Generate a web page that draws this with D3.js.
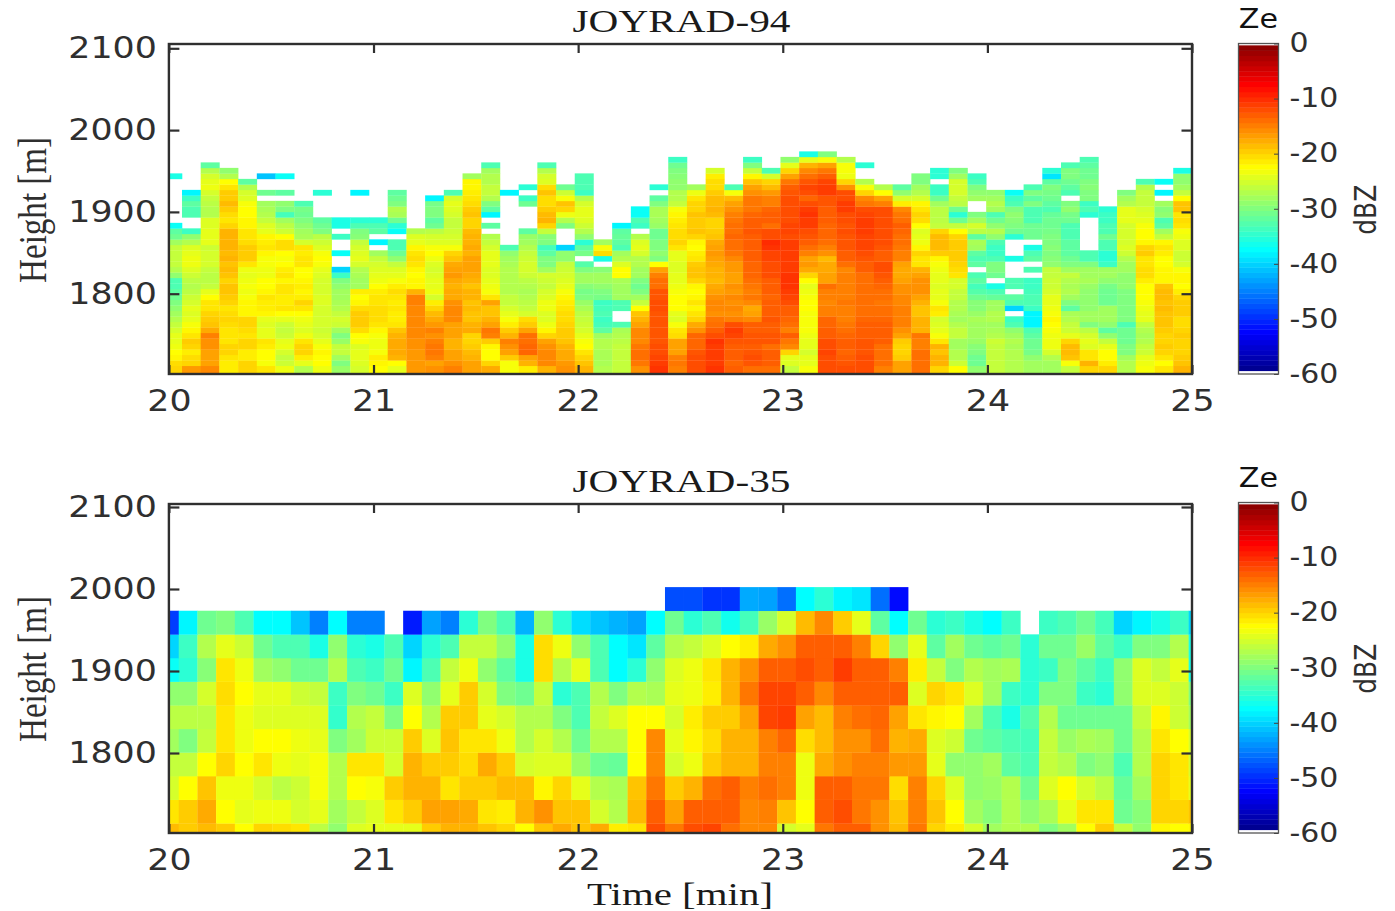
<!DOCTYPE html>
<html>
<head>
<meta charset="utf-8">
<script src="https://cdn.jsdelivr.net/npm/d3@7"></script>
<style>
html,body{margin:0;padding:0;background:#fff;overflow:hidden}
svg{display:block}
</style>
</head>
<body>
<svg id="chart" width="1395" height="911"></svg>
<script>
// ---- tick labels / titles ----
const timeTicks = [20, 21, 22, 23, 24, 25];
const heightTicks = [1800, 1900, 2000, 2100];
const zeTicks = [0, -10, -20, -30, -40, -50, -60];
const panelTitles = ["JOYRAD-94", "JOYRAD-35"];

// ---- JOYRAD-94: one array per time column, lowest gate first; a hole means no signal ----
const ze94 = [
[-20,-20.5,-22,-22.5,-23.5,-24,-24,-25,-26,-27,-28,-29,-30,-31,-32,-33,-33,-29,-27,-26,-26,-26,-26,-28,-31,-32,-37,,,,,,,,,-36],
[-16.5,-20,-20.5,-21.5,-20,-19.5,-21,-22,-23,-24,-24.5,-24,-25,-25.5,-26.5,-27,-26.5,-25.5,-24.5,-23.5,-23.5,-24,-24.5,-27,-29,-34,,,-33,-33,-32,-34,-38],
[-15.5,-17,-17,-17,-16,-16,-15,-17.5,-19,-19.5,-20,-21,-21,-22.5,-24,-26,-26.5,-26.5,-26,-25,-25,-25,-25.5,-24,-24,-24,-24.5,-24.5,-27,-27,-26.5,-26,-25,-23.5,-24,-25,-27,-32],
[-21.5,-21.5,-21,-20,-20,-21,-21,-21,-20.5,-20,-20.5,-21,-20,-19.5,-19,-19,-20,-19,-18.5,-19,-18,-18.5,-18,-18,-18,-18,-20,-21,-20.5,-19.5,-18.5,-19.5,-19.5,-21,-22.5,-27,-29],
[-20,-20,-21.5,-21.5,-20,-20,-21,-20.5,-20,-20,-22,-22,-22,-23,-23.5,-23,-23.5,-24,-23.5,-21,-19.5,-19.5,-19.5,-20.5,-21,-21,-22,-22,-22.5,-22.5,-23,-24.5,-25,-27,-32],
[-21,-23,-22.5,-22.5,-21.5,-21,-24,-24,-24.5,-24,-22,-21.5,-21.5,-21,-22,-22.5,-22.5,-23.5,-23.5,-23,-23,-22,-21,-21.5,-22,-24,-24.5,-26,-27,-27.5,-28,,-31,,,-41],
[-23.5,-25.5,-26,-25,-23.5,-24,-25.5,-26,-25.5,-24,-22.5,-21,-21.5,-21.5,-21,-21,-22,-21,-21.5,-22.5,-23,-22.5,-20.5,-20.5,-22.5,-25.5,-26.5,-28,-33.5,-30,-29,,-32,,,-37],
[-27,-24,-21.5,-20,-20,-21,-23.5,-24.5,-24,-23.5,-22.5,-21,-20,-21.5,-22,-21.5,-22,-22.5,-22.5,-21,-21,-21.5,-21,-25,-27.5,-28,-29,-30,-31,-30.5,-33],
[-23.5,-22.5,-22.5,-22,-23,-24,-25,-25.5,-25,-25,-25,-25,-24.5,-24.5,-25,-25,-25,-24.5,-24,-23,-22.5,-23,-24.5,-25.5,-26.5,-30,-31,-32,,,,,-35],
[-28.5,-30,-28,-26,-26,-28.5,-30,-28,-25.5,-25,-26,-27,-27.5,-28,-28,-29,-30,-34,-40,,,-37,,,-34,,-36,-36],
[-25,-24.5,-24,-24,-24.5,-23,-22.5,-20.5,-19.5,-19.5,-19.5,-20.5,-22,-22.5,-21.5,-28,-28,-27.5,-27,-25,-24,-24.5,-25,-26,-29.5,-30,-33,-35,,,,,-38],
[-22.5,-22,-21.5,-23,-23.5,-23.5,-23,-22,-21,-20.5,-20.5,-20.5,-21,-21,-21.5,-22.5,-23.5,-24,-24.5,-25,-26,-28,,-38,,-32,-33,-35],
[-24,-22.5,-18,-17.5,-17.5,-17.5,-18,-19,-21,-21.5,-21.5,-21,-21.5,-21,-20.5,-21.5,-23,-24,-24.5,-26,-29,-31,-33,-33,,-37,-35,-31,-27.5,-27,-30,-31,-32],
[-16.5,-16.5,-16.5,-16.5,-16,-16,-15.5,-15.5,-15.5,-15.5,-15.5,-15.5,-15,-15,-18,-22,-22,-22.5,-22,-21,-20.5,-21,-22,-24,-24.5,-27],
[-16,-17,-15,-14.5,-14.5,-15,-16,-15,-16.5,-17.5,-18.5,-20,-21.5,-25,-23.5,-24,-24,-24.5,-25,-24.5,-23.5,-22.5,-23,-24.5,-25,-26.5,-31,-32,-30,-30,-30.5,-38],
[-15,-16,-17,-17,-18,-18,-17,-17,-17,-15.5,-15.5,-15.5,-16,-17.5,-17.5,-18,-17.5,-16.5,-17,-17.5,-19,-20,-23,-24.5,-25,-25.5,-26,-26,-25,-24.5,-24,-25,-33],
[-17,-17,-18,-18.5,-19.5,-20,-20,-17.5,-18,-19,-19,-18.5,-19,-18,-18,-19,-18,-17.5,-17,-17,-17,-18,-17.5,-18,-18,-18.5,-20,-20,-19,-19.5,-20.5,-21,-21.5,-22,-22,-28],
[-17.5,-20,-22.5,-22.5,-22,-19.5,-15,-14.5,-17,-18,-19,-19,-17,-21,-23,-23.5,-24,-24.5,-24.5,-24,-24,-24,-25,-26,-27,,-32,,-38,-32,-30,-27,-26,-26,-27,-27,-28,-33],
[-23,-23,-19.5,-17,-16,-15,-18,-19.5,-21.5,-23,-24,-25,-26,-26,-27,-27,-27,-27,-27,-27.5,-28,-29,-33,,,,,,,,,,-38],
[-21.5,-18,-17,-13.5,-13.5,-14,-14,-17,-19.5,-20.5,-25,-26,-26.5,-27,-27.5,-27,-26.5,-25.5,-25,-25,-25.5,-26,-27,-28,-28.5,-32,,,,,-31,-34,,-35],
[-18,-15.5,-15.5,-15.5,-16,-17,-20,-22,-23.5,-24.5,-24.5,-23.5,-23.5,-24.5,-25,-26,-25.5,-25,-28,-30,-30,-32,-33.5,-30,-29.5,-26,-20,-18,-18.5,-19.5,-20.5,-20.5,-19,-20.5,-24.5,-25,-27,-33],
[-16,-16.5,-17.5,-17.5,-18,-19,-19.5,-19.5,-20,-20.5,-20.5,-21,-21.5,-22,-23,-24,-24.5,-25,-25.5,-26,-29,-29,-40,,,,-30,-27,-23.5,-20,-19,-23,-25.5,-31],
[-18,-19,-20,-21,-22.5,-23,-24,-25,-25.5,-26,-26.5,-27.5,-28.5,-30,-30.5,-29.5,-28,-28,-30,-32.5,,-30.5,-32,-35,-29,-27,-25.5,-24.5,-24,-24,-25,-27,-34,-33,-33,-33],
[-27,-27.5,-27.5,-27.5,-27,-27,-28,-32,-33.5,-34,-33,-33.5,-34,-30.5,-30,-29,-28,-28,-29.5,,-36,-20.5,-23,-28],
[-26,-26,-26,-26,-26,-26.5,-27,-27.5,-33,,,-33,-33,-28,-28,-28,-27.5,-22.5,-22.5,-24.5,-27,-28,-33,-32,-31.5,-32,-38],
[-16,-14.5,-14,-14,-14.5,-15.5,-15.5,-15.5,-17,-18,-19,-22.5,-26,-28,-30,-31,-30,-28,-28,-27,-27,-25,-24,-24.5,-27,,-34,-33,-37,-37],
[-10.5,-11,-11.5,-12,-12,-12.5,-12.5,-12.5,-12.5,-12.5,-12.5,-12,-12,-12.5,-12.5,-14,-14,-15,-17,-22.5,-30,-29,-30,-30,-31,-31,-28.5,-28,-27.5,-27.5,-30,-32,,-35],
[-15,-14.5,-15,-17,-17,-17,-20.5,-21,-23,-24.5,-24,-22.5,-22.5,-22.5,-23,-23.5,-24,-24,-24.5,-24.5,-24,-24,-21,-20,-20.5,-20.5,-21,-21.5,-22,-23,-26,-27,-27,-29,-29,-29.5,-30,-31,-34],
[-12,-12,-12,-12.5,-13.5,-13.5,-13.5,-16,-17.5,-20,-21,-22,-21,-22,-22.5,-22,-20,-19,-19,-19.5,-21,-21.5,-22.5,-22,-20,-19,-19.5,-19.5,-19,-20,-20,-21,-23.5,-28],
[-10.5,-11,-11,-11,-11,-10.5,-12,-13,-14,-14.5,-16,-15.5,-15.5,-16,-17,-17.5,-18.5,-18,-18,-17.5,-17,-16.5,-17,-17.5,-19,-19.5,-20,-20,-18.5,-18,-18.5,-18.5,-19.5,-20.5,-20.5,-21.5,-25],
[-13,-13.5,-13,-13,-13,-12.5,-11.5,-11,-12,-15,-16,-15.5,-16,-15.5,-16.5,-16,-17,-17,-16.5,-16.5,-15.5,-14.5,-14,-14,-13.5,-14,-14,-14.5,-15,-16,-17,-18.5,-23,-33],
[-14,-12.5,-12,-12.5,-13,-12.5,-12.5,-13,-13,-15.5,-17,-17.5,-15.5,-14.5,-15,-14.5,-14,-13.5,-13.5,-13.5,-13,-13,-13,-13,-13,-12.5,-13,-13,-13.5,-14.5,-14.5,-14.5,-16,-17,-19,-22,-26,-30,-34],
[-14,-13,-13,-13,-14,-12.5,-12.5,-13,-13,-12.5,-13,-13,-13,-13.5,-13,-13,-13,-12,-12,-12,-11.5,-11.5,-10.5,-10,-12,-12,-14,-13,-13,-13.5,-15,-15,-16.5,-18.5,-20,-25,-33],
[-26,-24.5,-24,-20,-15.5,-14.5,-13,-15,-14,-13.5,-13,-13,-12,-11.5,-11,-10.5,-10.5,-10.5,-11,-11,-11,-11,-11,-11,-12,-11.5,-11.5,-12,-12,-12,-12,-12,-12.5,-13,-14.5,-17,-20,-24,-29],
[-23,-24,-24,-25,-24,-24,-23.5,-23,-23,-23,-23,-22.5,-22.5,-23,-23.5,-24,-22.5,-20,-17.5,-16.5,-17,-15,-14,-13,-12.5,-12,-11,-11,-10.5,-11,-12,-13.5,-12,-11.5,-12.5,-14,-15.5,-18,-24,-36],
[-12,-12,-12,-11.5,-12,-12,-13,-13,-13.5,-13.5,-15,-15,-15.5,-15,-15,-14,-17,-17,-17.5,-17.5,-18.5,-16,-15,-14,-13.5,-13.5,-13.5,-13,-13,-13,-12.5,-12.5,-11,-11,-11.5,-13,-14.5,-17,-23,-30],
[-12,-12.5,-13,-13.5,-13,-13,-13.5,-14,-14.5,-15,-15,-15,-14.5,-15,-15,-15,-15,-15,-15.5,-14,-13,-13,-12.5,-12.5,-12.5,-12,-12.5,-12,-12,-11,-11,-12,-12,-16,-20,-23.5,-23,-23,-27],
[-12,-12,-12,-12.5,-12.5,-12.5,-13,-13,-13,-13.5,-14,-14,-14,-14,-14,-14,-14,-14,-13,-13,-12.5,-12,-11.5,-11.5,-11.5,-11,-11,-11,-11.5,-12,-14.5,-15.5,-20,-23,-27,,,-35],
[-15,-14,-14,-14,-14,-13,-13,-13,-13,-13.5,-14,-14,-14.5,-14,-14,-13.5,-13,-12.5,-12,-12,-13,-13,-12.5,-12,-12,-12,-12,-12,-12,-12,-15,-17,-22.5,-27],
[-17,-17,-19.5,-20,-20,-19.5,-17,-16,-15,-15,-15,-15,-15.5,-15.5,-16,-16,-17,-17.5,-17.5,-17,-15,-15,-14.5,-14,-14,-13.5,-13,-14,-14.5,-15.5,-21.5,-25,-29,-32],
[-14,-14,-14,-14,-15,-15,-14.5,-18,-18,-18,-19,-19,-18,-17,-16,-16,-16,-17,-18,-21,-21,-20,-22,-23.5,-24,-24.5,-22.5,-20.5,-20,-21,-22,-25,-27,-28,-30,-30],
[-20,-18,-18,-19,-18,-21,-23,-24,-24.5,-25,-21.5,-21,-23,-24,-24,-24.5,-24,-24,-23.5,-23,-22,-19.5,-18.5,-18.5,-18.5,-20,-26,-26.5,-26.5,-26.5,-28,-31,-34,-34,,-35,-35],
[-22.5,-25.5,-27,-27,-28,-28,-26,-26,-27,-28,-27.5,-27,-27,-26,-26,-25,-25,-21,-20.5,-20,-19.5,-19.5,-19.5,-19.5,-20,-22.5,-26,-31,-35,-31,-26.5,-26,-25,-25,-25,-28,-30],
[-29,-31,-31,-30,-29.5,-28.5,-28,-28,-28,-27.5,-28.5,-29.5,-29.5,-31,-32.5,-33.5,-32,-33,,-32,-33,-32,-28,-27.5,-32,-26.5,-25,-28,-30,,,-28,-29,-30,-33,-34],
[-26,-26,-26,-26,-26,-25.5,-27,-27.5,-28,-27,-27,-28,-28,-31.5,-33,-36,,-31,-30,-30,-33,-34,-34,-33,-29,-27,-29,-31,-33,-28,-27,-28,-29],
[-27,-27,-27,-27,-27.5,-27,-28,-29,-33,-34,,-40,-33,-32,,-33,-33,,,,-36,,,,-35,-31,-30,-29.5,-29,-30,-33,-34,-37],
[-28,-28,-29,-30.5,-31,-31,-32,-33,-38,-38,-38,-34,-33,-33,-33.5,-34,-34,,-33,,-32,-33,-36,,-31,-31,-31,-33,-33,-33,-30,-32,-30,-33],
[-28,-28,-27,-25,-23.5,-23.5,-23.5,-23,-22.5,-22,-23,-23.5,-24,-24,-25,-25.5,-25.5,-26,-26,-29,-29.5,-30,-29.5,-30,-30,-30.5,-31,-31,-31.5,-33,-32,-31,-30.5,-30,-32,-39,-35],
[-26,-23,-19,-18.5,-18.5,-20,-24,-25.5,-26,-27,-27.5,-32,-30,-28,-27,-27.5,-27,-26,-28,-30,-31,-32,-32,-32,-33,-33,-33,-31,-30.5,-29,-30,,-33,-32,-31,-30,-30,-33],
[-20,-18,-21,-21,-24.5,-24,-25,-26.5,-30,-28,-28,-29,-29,-29,-29,-28.5,-27.5,-28,-28,-30,-33,-33,,,,,,,-35,-33,-34,-30,-30,-29.5,-30,-31,-31,-32,-33],
[-20,-21.5,-22.5,-22.5,-24,-26,-29,-32,-29,-28,-28,-28,-31,-31,-31,-30.5,-29,-28,-28,-34,-35,-35,-33,-33,-31,-33,-33,-34,-34,-35],
[-27,-27,-28,-30,-30,-31,-31,-31,-33,-30,-30,-30,-30,-30,-30,-29,-29,-29,-28,-28,-27,-25.5,-24.5,-25,-25,-25,-25,-24,-24,-24,-27,-28,-30],
[-23,-23.5,-24,-25.5,-26,-27,-27.5,-27,-26,-24,-24,-23.5,-23,-22.5,-22.5,-22.5,-21.5,-20.5,-20.5,-21,-21,-19.5,-20,-22,-22.5,-22.5,-23,-24,-24.5,-25,-26,-26,-26,-27,-33],
[-21,-22.5,-21,-20,-19.5,-20,-20,-19.5,-19,-19,-19,-18.5,-19,-18.5,-18.5,-19,-22,-22,-22,-22.5,-22.5,-21.5,-21,-22,-26,-28,-32,-33,-29,-29.5,-28,,-38,,-37],
[-18,-19,-19.5,-20,-20,-20,-19.5,-20,-20.5,-20.5,-19.5,-19.5,-19.5,-20,-21.5,-22.5,-22,-22,-23,-25,-25.5,-25.5,-24.5,-24.5,-23.5,-23,-21,-20.5,-21,-19,-19,-22.5,-26,-28,-29,-29,-36]
];

// ---- JOYRAD-35: one array per range gate, lowest gate first, one value per time column ----
const ze35Gate0 = [-18.5,-19.5,-18.5,-19.5,-22.5,-20,-20.5,-21,-26.5,-29,-24.5,-24,-24,-24,-19.5,-18,-18,-19,-20,-22.5,-19,-17.5,-19,-17.5,-21.5,-21,-12,-14.5,-12,-11.5,-14,-15.5,-15.5,-25,-24,-14.5,-13,-13,-16,-18.5,-14.5,-20,-21.5,-25,-28,-27,-27,-30,-28,-22.5,-19.5,-26,-29,-22,-22.5,-22];
const ze35Gate1 = [-21,-19.5,-17.5,-22.5,-24,-23.5,-23.5,-25,-24,-28,-26,-24.5,-21,-19.5,-17,-17,-17.5,-21,-21.5,-18,-16,-19,-19,-25,-27,-18.5,-13,-17,-13,-13,-13,-15.5,-15,-19,-22.5,-13,-12,-14.5,-16,-19,-15,-19,-22.5,-28,-29.5,-27,-29,-27.5,-24,-21,-21,-31,-29.5,-20,-20,-19];
const ze35Gate2 = [-25,-22.5,-19,-23.5,-23.5,-25,-26.5,-25.5,-23,-27,-22.5,-23,-19.5,-18,-18,-21,-19.5,-19.5,-18.5,-18.5,-22,-20,-24,-27,-27.5,-19,-14.5,-19.5,-18,-14,-13,-15,-14,-15,-23.5,-13,-13,-14.5,-14.5,-20.5,-15,-20,-24.5,-29,-28.5,-27,-31,-24.5,-22.5,-25,-26.5,-31.5,-28,-20,-21,-24];
const ze35Gate3 = [-26,-26,-22.5,-20,-22.5,-21,-23.5,-24,-23,-27,-21,-21,-25,-18,-19.5,-19.5,-20.5,-17.5,-19.5,-25,-24.5,-24.5,-28.5,-31,-31.5,-22.5,-15.5,-25,-23.5,-19.5,-18,-18,-15,-15,-23.5,-17.5,-16,-15,-15,-16.5,-16.5,-24,-29,-29,-28,-32,-33,-26,-27,-30,-29,-33,-27,-20,-21,-25];
const ze35Gate4 = [-28,-30,-26,-21,-23.5,-22.5,-22.5,-23.5,-24,-30,-28,-25.5,-25.5,-19.5,-24.5,-19,-21,-21,-23.5,-27,-25,-27,-31,-27,-27,-22.5,-15.5,-24,-22,-20.5,-18,-18,-15,-13.5,-20.5,-18.5,-16,-16,-14,-18,-17.5,-24.5,-25.5,-31,-32,-33,-33.5,-26,-28.5,-27.5,-28,-31,-27,-21,-22.5,-25];
const ze35Gate5 = [-26.5,-26.5,-26.5,-21,-23.5,-24.5,-24.5,-24.5,-24.5,-34.5,-27,-26,-30,-22.5,-27,-19.5,-19.5,-24,-25,-27,-27,-30,-33,-26,-24.5,-22.5,-22.5,-25,-21.5,-19.5,-19.5,-17,-11.5,-11,-17,-18.5,-15,-14,-13.5,-17,-21,-22,-22.5,-28,-33,-36,-32.5,-27,-31,-31,-31,-31,-26,-22,-25.5,-28];
const ze35Gate6 = [-29,-29,-25,-20.5,-22.5,-24,-24,-25.5,-26,-34,-30,-31,-34,-24.5,-29,-24,-19.5,-25,-30,-31,-26,-35,-33,-27,-30,-27,-27.5,-24,-23.5,-21.5,-18,-14.5,-11.5,-11.5,-13,-15.5,-13,-13,-13,-13,-24.5,-20,-21,-24.5,-28,-34,-35,-30,-30,-34,-35,-29,-24.5,-24.5,-25.5,-30];
const ze35Gate7 = [-37,-35,-29.5,-21,-23.5,-28,-29,-31,-31,-27,-33,-34,-31,-38,-33,-26,-23.5,-29,-32,-36,-20.5,-27,-24,-33,-37.5,-35,-29,-24.5,-23.5,-21,-18,-16,-13,-13,-12,-13,-11,-13,-13,-15,-21.5,-26,-30,-27,-28,-27.5,-35,-34,-30,-32,-34,-29,-24.5,-26,-24,-36];
const ze35Gate8 = [-40,-34,-27,-24,-25.5,-31,-33,-33,-36,-29,-35,-36,-33,-40,-35,-33,-26,-26,-29,-36,-20.5,-23.5,-29,-33,-37.5,-39,-32,-27,-26,-24.5,-22.5,-21.5,-17.5,-16,-13,-13,-13,-15,-20,-29,-24,-32,-28,-31,-32,-31,-35,-31,-31,-28.5,-32,-34,-30,-30,-27,-36];
const ze35Gate9 = [-49,-38,-31,-30,-33,-37.5,-37.5,-41,-45,-37.5,-45,-45,,-51,-43,-45,-35,-30,-33,-42,-29,-35,-39.5,-41,-42,-43,-37.5,-31,-35,-33,-36.5,-33.5,-28.5,-25,-18.5,-15.5,-19.5,-24,-32,-37.5,-31,-35,-34,-36,-37.5,-34,,-34,-33,-31,-33.5,-40,-38,-36,-34,-40];
const ze35Gate10 = [,,,,,,,,,,,,,,,,,,,,,,,,,,,-48,-48,-49.5,-49.5,-42.5,-43,-46,-37.5,-35,-38,-39,-46,-52];
const ze35 = [ze35Gate0, ze35Gate1, ze35Gate2, ze35Gate3, ze35Gate4, ze35Gate5, ze35Gate6, ze35Gate7, ze35Gate8, ze35Gate9, ze35Gate10];

// ---- grid description (minutes, metres) ----
const timeStep = 0.0914;
const gridFirst = {t94: 20.064, t35: 20.048, h94: 1711.9, h35: 1714.3};
const heightStep = {h94: 6.72, h35: 28.8};

// ---- MATLAB jet, dBZ stops ----
const jetStops = [-60, -52.5, -37.5, -22.5, -7.5, 0];
const jetColors = ["#000080", "#0000ff", "#00ffff", "#ffff00", "#ff0000", "#800000"];
const jet = d3.scaleLinear().domain(jetStops).range(jetColors).interpolate(d3.interpolateRgb).clamp(true);

const svg = d3.select("#chart");
const INK = "#2f2f2f";
const sansFont = "'DejaVu Sans', sans-serif";
const serifFont = "'Liberation Serif', 'DejaVu Serif', serif";

function stretch(sel, k) {
  sel.each(function () {
    const l = this.getComputedTextLength();
    if (l > 0) {
      this.setAttribute("textLength", l * k);
      this.setAttribute("lengthAdjust", "spacingAndGlyphs");
    }
  });
}
function labelFmt(d) { return String(d); }

function panel(opts) {
  const {idx, plotTop, plotBottom, y2100, y1800, hFirst, hStep, tFirst, rows, byColumn, cbTop, cbBottom, zeBase} = opts;
  const x = d3.scaleLinear().domain([20, 25]).range([168.9, 1192]);
  const pxPerM = (y1800 - y2100) / 300;
  const yMin = 1800 - (plotBottom - y1800) / pxPerM;
  const yMax = 2100 + (y2100 - plotTop) / pxPerM;
  const y = d3.scaleLinear().domain([yMin, yMax]).range([plotBottom, plotTop]);
  const g = svg.append("g");
  const clipId = "clip" + idx;
  g.append("clipPath").attr("id", clipId).append("rect")
    .attr("x", x(20)).attr("y", plotTop).attr("width", x(25) - x(20)).attr("height", plotBottom - plotTop);

  const cells = [];
  rows.forEach((arr, i) => {
    for (let j = 0; j < arr.length; j++) {
      const v = arr[j];
      if (v === undefined) continue;
      const col = byColumn ? i : j;
      const gate = byColumn ? j : i;
      cells.push({col, gate, v});
    }
  });
  const tEdge = c => c === 0 ? 20 : tFirst + (c - 1) * timeStep;
  const hEdge = r => r === 0 ? yMin : hFirst + (r - 1) * hStep;
  g.append("g").attr("clip-path", `url(#${clipId})`)
    .selectAll("rect").data(cells).join("rect")
    .attr("x", d => x(tEdge(d.col)))
    .attr("width", d => x(tEdge(d.col + 1)) - x(tEdge(d.col)) + 0.3)
    .attr("y", d => y(hEdge(d.gate + 1)))
    .attr("height", d => y(hEdge(d.gate)) - y(hEdge(d.gate + 1)) + 0.3)
    .attr("fill", d => jet(d.v));

  // frame
  g.append("rect").attr("x", x(20)).attr("y", plotTop).attr("width", x(25) - x(20)).attr("height", plotBottom - plotTop)
    .attr("fill", "none").attr("stroke", INK).attr("stroke-width", 2.4);

  const style = a => {
    a.select(".domain").remove();
    a.selectAll("line").attr("stroke", INK).attr("stroke-width", 2.2);
    a.selectAll("text").attr("fill", INK).attr("font-family", sansFont).attr("font-size", 29.5);
  };
  const ax = g.append("g").attr("transform", `translate(0,${plotBottom})`)
    .call(d3.axisBottom(x).tickValues(timeTicks).tickFormat(labelFmt).tickSizeInner(-9).tickSizeOuter(0).tickPadding(16));
  style(ax); ax.selectAll("text").call(stretch, 1.18);
  const ax2 = g.append("g").attr("transform", `translate(0,${plotTop})`)
    .call(d3.axisTop(x).tickValues(timeTicks).tickFormat("").tickSizeInner(-9).tickSizeOuter(0));
  style(ax2);
  const ay = g.append("g").attr("transform", `translate(${x(20)},0)`)
    .call(d3.axisLeft(y).tickValues(heightTicks).tickFormat(labelFmt).tickSizeInner(-10.5).tickSizeOuter(0).tickPadding(12));
  style(ay); ay.selectAll("text").call(stretch, 1.18);
  const ay2 = g.append("g").attr("transform", `translate(${x(25)},0)`)
    .call(d3.axisRight(y).tickValues(heightTicks).tickFormat("").tickSizeInner(-10.5).tickSizeOuter(0));
  style(ay2);

  // title
  g.append("text").text(panelTitles[idx]).attr("x", 681.5).attr("y", plotTop - 12.5).attr("text-anchor", "middle")
    .attr("fill", "#1a1a1a").attr("font-family", serifFont).attr("font-size", 31)
    .attr("textLength", 218).attr("lengthAdjust", "spacingAndGlyphs");

  // y label
  const lblY = (y(1800) + y(2000)) / 2 - 2;
  g.append("text").text("Height [m]")
    .attr("transform", `translate(46,${lblY}) rotate(-90) scale(1,1.35)`)
    .attr("text-anchor", "middle").attr("fill", INK).attr("font-family", serifFont).attr("font-size", 29)
    .attr("textLength", 146).attr("lengthAdjust", "spacingAndGlyphs");

  // colour bar
  const cb = d3.scaleLinear().domain([-60, 0]).range([cbBottom, cbTop]);
  const levelStep = 0.9375;
  const levels = d3.range(0, 63).map(i => -59.4 + i * levelStep);
  const cg = g.append("g");
  cg.selectAll("rect").data(levels).join("rect")
    .attr("x", 1238.5).attr("width", 40)
    .attr("y", d => cb(Math.min(d + levelStep, 0))).attr("height", d => cb(d) - cb(Math.min(d + levelStep, 0)) + 0.4)
    .attr("fill", d => jet(d + levelStep / 2));
  cg.append("rect").attr("x", 1238.5).attr("y", cbTop).attr("width", 40).attr("height", cbBottom - cbTop)
    .attr("fill", "none").attr("stroke", "#555").attr("stroke-width", 1.3);
  const cax = cg.append("g").attr("transform", "translate(1278.5,0)")
    .call(d3.axisRight(cb).tickValues(zeTicks).tickFormat(labelFmt).tickSizeInner(-4.5).tickSizeOuter(0).tickPadding(11));
  cax.select(".domain").remove();
  cax.selectAll("line").attr("stroke", "#444").attr("stroke-width", 1);
  cax.selectAll("text").attr("fill", INK).attr("font-family", sansFont).attr("font-size", 26).call(stretch, 1.15);
  cg.append("text").text("Ze").attr("x", 1258.5).attr("y", zeBase).attr("text-anchor", "middle")
    .attr("fill", "#111").attr("font-family", sansFont).attr("font-size", 26).call(stretch, 1.16);
  cg.append("text").text("dBZ")
    .attr("transform", `translate(1376,${(cbTop + cbBottom) / 2 + 1}) rotate(-90) scale(1,1.2)`)
    .attr("text-anchor", "middle").attr("fill", INK).attr("font-family", sansFont).attr("font-size", 25);
}

panel({idx: 0, plotTop: 44, plotBottom: 374, y2100: 48.3, y1800: 293.7,
  hFirst: gridFirst.h94, hStep: heightStep.h94, tFirst: gridFirst.t94, rows: ze94, byColumn: true,
  cbTop: 43.5, cbBottom: 374, zeBase: 28});
panel({idx: 1, plotTop: 504, plotBottom: 833, y2100: 507, y1800: 753,
  hFirst: gridFirst.h35, hStep: heightStep.h35, tFirst: gridFirst.t35, rows: ze35, byColumn: false,
  cbTop: 502.5, cbBottom: 833, zeBase: 487});

svg.append("text").text("Time [min]").attr("x", 680).attr("y", 905).attr("text-anchor", "middle")
  .attr("fill", "#1a1a1a").attr("font-family", serifFont).attr("font-size", 31)
  .attr("textLength", 186).attr("lengthAdjust", "spacingAndGlyphs");
</script>
</body>
</html>
